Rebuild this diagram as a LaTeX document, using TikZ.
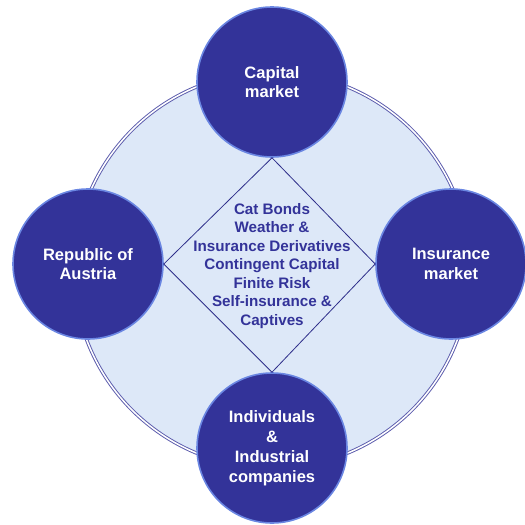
\documentclass[tikz,border=0pt]{standalone}
\usepackage{fontspec}
\setmainfont{Liberation Sans}
\definecolor{dkblue}{HTML}{333399}
\definecolor{glow}{HTML}{6A86E2}
\definecolor{lightfill}{HTML}{DDE8F8}
\begin{document}
\begin{tikzpicture}[x=1pt,y=-1pt,
  party/.style={circle, fill=dkblue, draw=glow, line width=1.6pt, minimum size=150pt, inner sep=0pt,
    text=white, font=\fontsize{16.5}{19.5}\selectfont\bfseries, align=center},
  ring/.style={circle, fill=lightfill, draw=dkblue!80, line width=0.95pt, double=white, double distance=1.5pt, minimum size=396pt, inner sep=0pt},
  link/.style={draw=dkblue!90!black, line width=0.8pt},
  core/.style={text=dkblue, font=\fontsize{15.2}{18.5}\selectfont\bfseries, align=center}]
\useasboundingbox (0,0) rectangle (525,525);
\node[ring] (big) at (272,270) {};
\node[party] (cap) at (272,82) {Capital\\market};
\node[party] (rep) at (88,264) {Republic of\\Austria};
\node[party] (ins) at (451,264) {Insurance\\market};
\node[party, font=\fontsize{16.5}{20}\selectfont\bfseries] (ind) at (272,448) {Individuals\\\&\\Industrial\\companies};
\draw[link] (cap.south) -- (ins.west) -- (ind.north) -- (rep.east) -- cycle;
\node[core] (mid) at (272,266) {Cat Bonds\\Weather \&\\Insurance Derivatives\\Contingent Capital\\Finite Risk\\Self-insurance \&\\Captives};
\end{tikzpicture}
\end{document}
